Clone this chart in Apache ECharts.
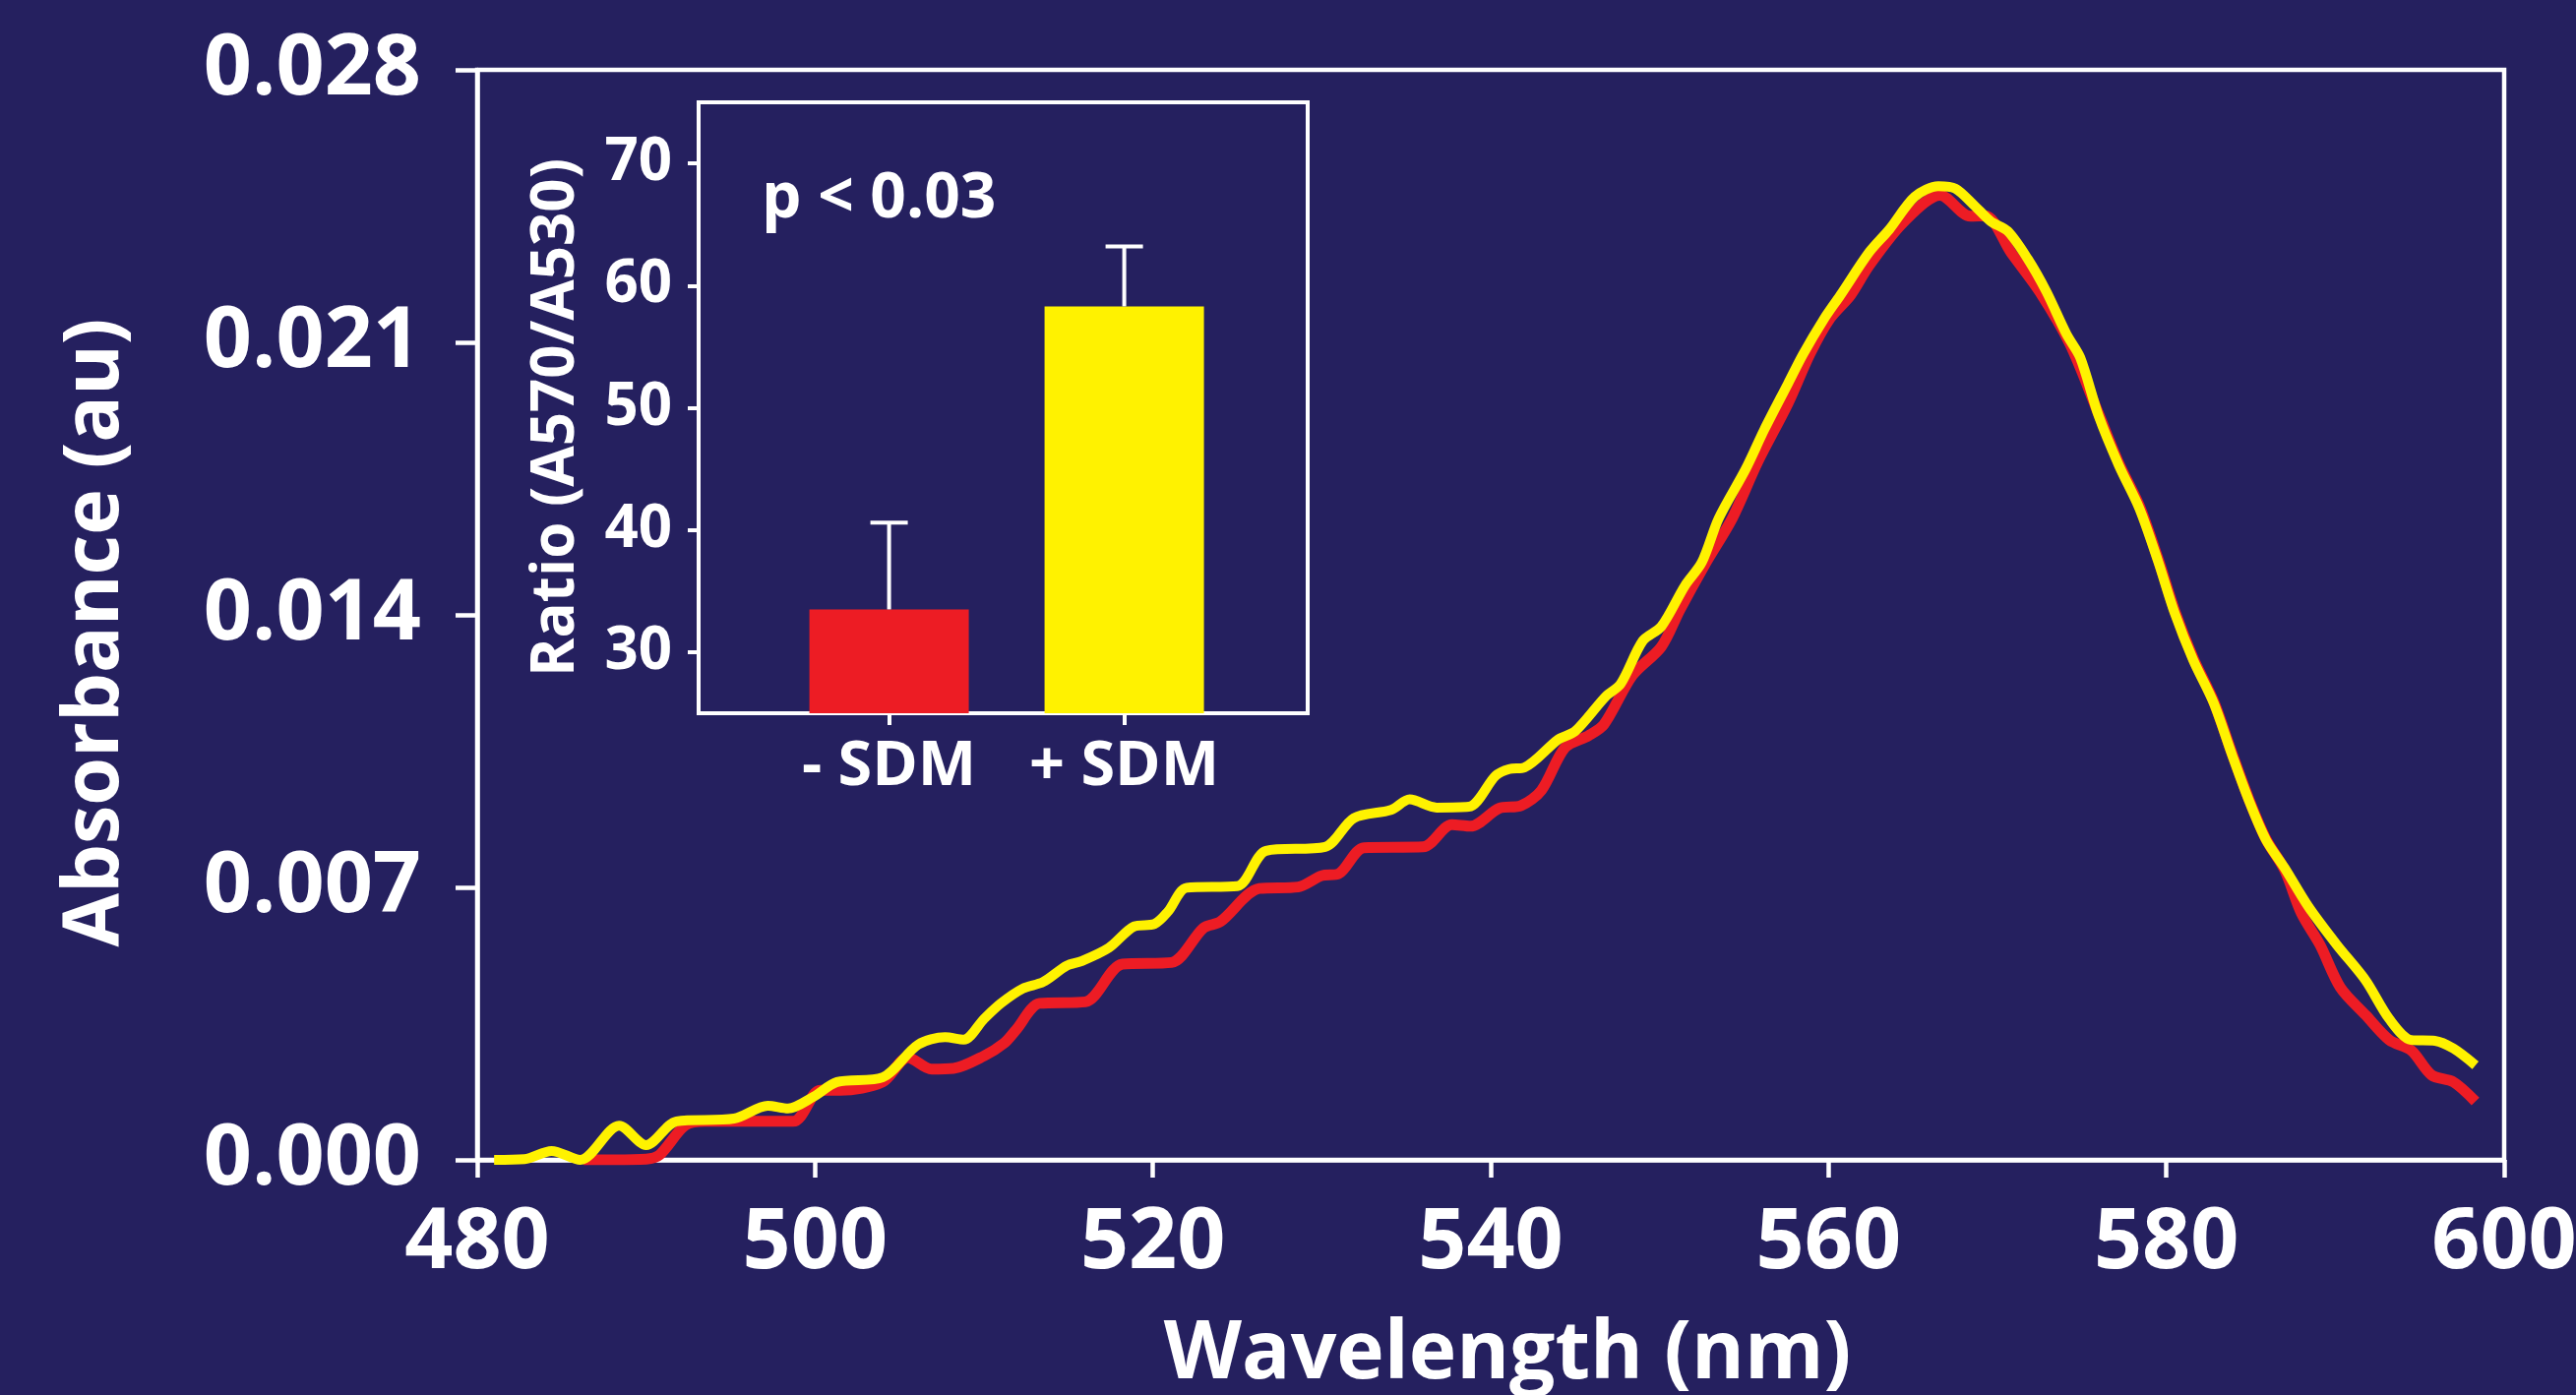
<!DOCTYPE html>
<html>
<head>
<meta charset="utf-8">
<title>Absorbance spectra</title>
<script src="https://cdn.jsdelivr.net/npm/echarts@6/dist/echarts.min.js"></script>
<style>
    html, body { margin: 0; padding: 0; background: #25205f; }
    #chart { width: 2618px; height: 1418px; }
</style>
</head>
<body>
<div id="chart"></div>
<script>
// spectrum, - SDM (red)
var wlRed = [
    486.3, 488.1, 490.0, 490.8, 492.3, 493.5, 498.7, 500.3, 501.5, 504.0,
    505.5, 506.9, 508.2, 510.0, 511.2, 511.9, 513.3, 516.0, 518.2, 521.1,
    523.0, 524.0, 526.3, 528.6, 530.0, 531.0, 532.5, 536.0, 537.7, 538.8,
    540.5, 541.8, 543.0, 544.4, 545.8, 546.7, 548.4, 550.1, 551.2, 552.7,
    554.3, 555.8, 557.6, 558.9, 560.1, 561.3, 562.4, 564.4, 566.6, 568.4,
    569.3, 570.8, 572.5, 574.3, 576.0, 577.2, 578.4, 579.5, 580.5, 581.6,
    582.8, 583.9, 584.9, 585.9, 587.0, 588.0, 589.1, 590.3, 591.8, 593.2,
    594.5, 595.7, 597.0, 598.3
];
var absRed = [
    0.00000, 0.00000, 0.00002, 0.00013, 0.00088, 0.00099, 0.00099, 0.00179, 0.00179, 0.00200,
    0.00263, 0.00233, 0.00235, 0.00267, 0.00300, 0.00334, 0.00402, 0.00406, 0.00503, 0.00507,
    0.00596, 0.00612, 0.00697, 0.00701, 0.00730, 0.00735, 0.00802, 0.00804, 0.00861, 0.00857,
    0.00903, 0.00910, 0.00949, 0.01059, 0.01090, 0.01118, 0.01245, 0.01318, 0.01413, 0.01531,
    0.01648, 0.01792, 0.01943, 0.02070, 0.02162, 0.02221, 0.02297, 0.02407, 0.02478, 0.02424,
    0.02425, 0.02331, 0.02230, 0.02095, 0.01915, 0.01788, 0.01680, 0.01545, 0.01410, 0.01288,
    0.01178, 0.01043, 0.00925, 0.00824, 0.00745, 0.00633, 0.00552, 0.00443, 0.00372, 0.00308,
    0.00281, 0.00218, 0.00200, 0.00150
];

// spectrum, + SDM (yellow)
var wlYellow = [
    481.0, 482.8, 484.4, 486.1, 488.4, 490.0, 491.8, 495.2, 497.2, 498.4,
    499.9, 501.3, 504.0, 506.1, 507.7, 508.8, 510.0, 511.0, 512.3, 513.5,
    514.9, 515.8, 517.4, 518.9, 520.1, 520.9, 522.0, 525.0, 526.7, 530.2,
    531.9, 534.1, 535.2, 536.8, 538.7, 540.3, 541.1, 542.0, 544.0, 545.0,
    546.8, 547.7, 549.0, 550.1, 551.5, 552.5, 553.5, 555.1, 556.2, 557.6,
    558.5, 559.7, 560.7, 562.4, 563.6, 565.1, 566.5, 567.5, 568.6, 569.6,
    570.6, 571.8, 572.9, 574.1, 574.9, 576.0, 577.2, 578.4, 579.5, 580.5,
    581.6, 582.8, 583.9, 584.9, 585.9, 587.0, 588.4, 590.1, 591.8, 593.2,
    594.5, 595.9, 597.0, 598.3
];
var absYellow = [
    0.00000, 0.00002, 0.00023, 0.00000, 0.00088, 0.00038, 0.00099, 0.00106, 0.00139, 0.00132,
    0.00162, 0.00200, 0.00212, 0.00296, 0.00315, 0.00309, 0.00362, 0.00402, 0.00440, 0.00457,
    0.00499, 0.00511, 0.00545, 0.00600, 0.00606, 0.00638, 0.00699, 0.00703, 0.00794, 0.00804,
    0.00878, 0.00899, 0.00926, 0.00905, 0.00907, 0.00987, 0.01004, 0.01008, 0.01080, 0.01101,
    0.01190, 0.01223, 0.01333, 0.01370, 0.01475, 0.01535, 0.01648, 0.01775, 0.01876, 0.01994,
    0.02070, 0.02158, 0.02221, 0.02331, 0.02390, 0.02474, 0.02501, 0.02495, 0.02453, 0.02411,
    0.02386, 0.02314, 0.02230, 0.02120, 0.02061, 0.01910, 0.01783, 0.01674, 0.01539, 0.01404,
    0.01283, 0.01174, 0.01039, 0.00922, 0.00822, 0.00750, 0.00651, 0.00552, 0.00461, 0.00362,
    0.00308, 0.00306, 0.00286, 0.00243
];

// inset: ratio A570/A530
var sdmLabels = ['- SDM', '+ SDM'];
var sdmPos = [1, 2];
var ratioMean = [33.5, 58.3];
var ratioSem = [7.1, 4.9];
var ratioTicks = [30, 40, 50, 60, 70];

var BG = '#25205f';
var RED = '#ed1c24';
var YELLOW = '#fff200';
var FONT = "'Open Sans', 'DejaVu Sans', sans-serif";

function pairs(xs, ys) {
    return xs.map(function (x, i) { return [x, ys[i]]; });
}

var chart = echarts.init(document.getElementById('chart'));

var option = {
    backgroundColor: BG,
    animation: false,
    textStyle: { fontFamily: FONT, color: '#fff', fontWeight: 'bold' },
    grid: [
        {   // main spectrum
            left: 485, top: 71, width: 2060, height: 1108,
            show: true, borderColor: '#fff', borderWidth: 4.5,
            outerBoundsMode: 'none'
        },
        {   // inset
            left: 710, top: 104, width: 619, height: 621,
            show: true, borderColor: '#fff', borderWidth: 4,
            backgroundColor: BG, z: 3,
            outerBoundsMode: 'none'
        }
    ],
    xAxis: [
        {
            gridIndex: 0, type: 'value', min: 480, max: 600, interval: 20,
            name: 'Wavelength (nm)', nameLocation: 'middle', nameGap: 158,
            nameTextStyle: { color: '#fff', fontSize: 82, fontWeight: 'bold', fontFamily: FONT, padding: [0, 0, 0, 34] },
            axisLine: { lineStyle: { color: '#fff', width: 4.5 } },
            axisTick: { length: 18, lineStyle: { color: '#fff', width: 4.5 } },
            axisLabel: { color: '#fff', fontSize: 86, fontWeight: 'bold', fontFamily: FONT, margin: 42 },
            splitLine: { show: false }
        },
        {
            gridIndex: 1, type: 'value', min: 0.19, max: 2.78,
            axisLine: { onZero: false, lineStyle: { color: '#fff', width: 4 } },
            axisTick: { customValues: sdmPos, length: 12, lineStyle: { color: '#fff', width: 4 } },
            axisLabel: {
                customValues: sdmPos, color: '#fff', fontSize: 63, fontWeight: 'bold', fontFamily: FONT, margin: 24,
                formatter: function (v) { return sdmLabels[sdmPos.indexOf(v)]; }
            },
            splitLine: { show: false }
        }
    ],
    yAxis: [
        {
            gridIndex: 0, type: 'value', min: 0, max: 0.028, interval: 0.007,
            name: 'Absorbance (au)', nameLocation: 'middle', nameGap: 348,
            nameTextStyle: { color: '#fff', fontSize: 79, fontWeight: 'bold', fontFamily: FONT, padding: [0, 36, 0, 0] },
            axisLine: { lineStyle: { color: '#fff', width: 4.5 } },
            axisTick: { length: 22, lineStyle: { color: '#fff', width: 4.5 } },
            axisLabel: {
                color: '#fff', fontSize: 86, fontWeight: 'bold', fontFamily: FONT, margin: 57,
                padding: [11, 0, 0, 0],
                formatter: function (v) { return v.toFixed(3); }
            },
            splitLine: { show: false }
        },
        {
            gridIndex: 1, type: 'value', min: 25, max: 75,
            name: 'Ratio (A570/A530)', nameLocation: 'middle', nameGap: 114,
            nameTextStyle: { color: '#fff', fontSize: 60, fontWeight: 'bold', fontFamily: FONT, padding: [0, 20, 0, 0] },
            axisLine: { lineStyle: { color: '#fff', width: 4 } },
            axisTick: { customValues: ratioTicks, length: 11, lineStyle: { color: '#fff', width: 4 } },
            axisLabel: { customValues: ratioTicks, color: '#fff', fontSize: 60, fontWeight: 'bold', fontFamily: FONT, margin: 27 },
            splitLine: { show: false }
        }
    ],
    graphic: [
        {
            type: 'text', left: 774, top: 171, z: 10,
            style: { text: 'p < 0.03', fill: '#fff', font: 'bold 64px ' + FONT }
        }
    ],
    series: [
        {
            name: '- SDM', type: 'line', xAxisIndex: 0, yAxisIndex: 0,
            data: pairs(wlRed, absRed), showSymbol: false, smooth: 0.3,
            lineStyle: { color: RED, width: 11 }, z: 2
        },
        {
            name: '+ SDM', type: 'line', xAxisIndex: 0, yAxisIndex: 0,
            data: pairs(wlYellow, absYellow), showSymbol: false, smooth: 0.3,
            lineStyle: { color: YELLOW, width: 10 }, z: 3
        },
        {
            type: 'bar', xAxisIndex: 1, yAxisIndex: 1, barWidth: 162, z: 4,
            data: sdmPos.map(function (p, i) {
                return { value: [p, ratioMean[i]], itemStyle: { color: [RED, YELLOW][i] } };
            })
        },
        {
            type: 'custom', xAxisIndex: 1, yAxisIndex: 1, z: 5,
            data: sdmPos.map(function (p, i) { return [p, ratioMean[i], ratioMean[i] + ratioSem[i]]; }),
            renderItem: function (params, api) {
                var base = api.coord([api.value(0), api.value(1)]);
                var top = api.coord([api.value(0), api.value(2)]);
                var st = { stroke: '#fff', lineWidth: 4 };
                return {
                    type: 'group',
                    children: [
                        { type: 'line', shape: { x1: base[0], y1: base[1], x2: top[0], y2: top[1] }, style: st },
                        { type: 'line', shape: { x1: top[0] - 19, y1: top[1], x2: top[0] + 19, y2: top[1] }, style: st }
                    ]
                };
            }
        }
    ]
};
chart.setOption(option);
</script>
</body>
</html>
